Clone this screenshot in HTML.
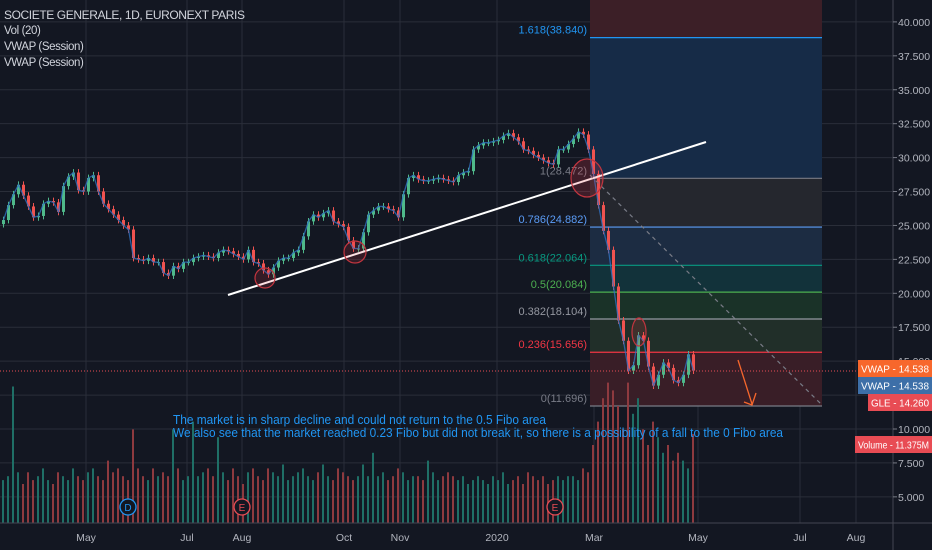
<!DOCTYPE html>
<html><head><meta charset="utf-8"><style>
html,body{margin:0;padding:0;background:#131722;}
#wrap{position:relative;width:932px;height:550px;overflow:hidden;background:#131722;font-family:"Liberation Sans",sans-serif;}
svg{position:absolute;left:0;top:0;}
.leg{position:absolute;left:4px;color:#d1d4dc;font-size:11.5px;letter-spacing:-0.4px;}
</style></head><body>
<div id="wrap">
<svg id="c" width="932" height="550"></svg>
<div class="leg" style="top:8px;font-size:12px">SOCIETE GENERALE, 1D, EURONEXT PARIS</div>
<div class="leg" style="top:25px">Vol (20)</div>
<div class="leg" style="top:41px">VWAP (Session)</div>
<div class="leg" style="top:57px">VWAP (Session)</div>
</div>
<script>
const closes=[25.4,26.5,27.3,28.0,27.2,26.4,25.6,25.7,26.6,26.8,26.7,26.0,27.9,28.6,28.9,27.6,27.5,28.5,28.7,27.5,26.6,26.2,25.8,25.4,25.0,24.7,22.6,22.5,22.4,22.6,22.3,22.3,21.5,21.3,22.0,21.8,22.3,22.3,22.6,22.7,22.8,22.7,22.6,23.0,23.2,23.1,22.9,22.7,22.5,23.2,22.3,22.2,21.7,21.4,21.9,22.4,22.6,22.6,23.0,23.2,24.2,25.3,25.8,25.6,25.9,26.1,25.3,25.1,24.9,23.9,23.3,23.3,24.5,25.8,26.1,26.4,26.4,26.2,26.1,25.6,27.3,28.5,28.7,28.4,28.3,28.3,28.4,28.5,28.4,28.3,28.2,28.7,28.9,29.0,30.6,30.9,31.1,31.1,31.2,31.3,31.6,31.8,31.5,31.2,30.6,30.5,30.2,30.0,29.8,29.6,29.5,30.6,30.6,31.0,31.4,31.9,31.7,30.6,28.8,26.5,24.6,23.2,20.5,18.0,16.5,14.3,14.7,16.9,16.5,14.6,13.2,14.0,14.9,14.5,13.6,13.4,14.0,15.5,14.3];
const volumes=[5.5,6,17.5,6.5,5,6.5,5.5,6,7,5.5,5,6.5,6,5.5,7,6,5.5,6.5,7,6,5.5,8,6.5,7,6,5.5,12,7,6,5.5,7,6,6.5,6,12,7,5.5,6,13,6,6.5,7,6,11,6.5,5.5,7,6,5,6.5,7,6,5.5,7,6.5,6,7.5,5.5,6,6.5,7,6,5.5,6.5,7.5,6,5.5,7,6.5,6,5.5,6,7.5,6,9,6,6.5,5.5,6,7,6.5,5.5,6,6,5.5,8,6.5,5.5,6,6.5,6,5.5,6,5,5.5,6,5.5,5,6,5.5,6.5,5,5.5,6,5,6.5,6,5.5,6,5,5.5,6,5.5,6,6,5.5,7,6.5,10,13,16,18,17,15,12,18,14,16,12,10,13,11,9,10,8,9,8,7,11.4];
const priceTicks=[40,37.5,35,32.5,30,27.5,25,22.5,20,17.5,15,12.5,10,7.5,5];
const monthLabels=["May","Jul","Aug","Oct","Nov","2020","Mar","May","Jul","Aug"];
const monthX=[86,187,242,344,400,497,594,698,800,856];
const fibRatios=["1.618","1","0.786","0.618","0.5","0.382","0.236","0"];
const fibPrices=[38.840,28.472,24.882,22.064,20.084,18.104,15.656,11.696];
const fibLineColors=["#2196f3","#787b86","#5b9cf6","#089981","#4caf50","#9598a1","#f23645","#787b86"];
const fibFills=["#162b47","#25272e","#1c2c42","#12323a","#1a3228","#212f29","#391e27"];

const svg=document.getElementById('c');const NS='http://www.w3.org/2000/svg';
function py(p){return 429-(p-10)*13.57;}
function cx(i){return 2+i*5;}
function vy(v){return 523-v*7.8;}
function mk(tag,attrs,name,inter){const e=document.createElementNS(NS,tag);for(const k in attrs)e.setAttribute(k,attrs[k]);


svg.appendChild(e);return e;}
function txt(x,y,s,attrs,name){const e=mk('text',Object.assign({x:x,y:y},attrs),name,false);e.textContent=s;return e;}

priceTicks.forEach(t=>{mk('line',{x1:0,x2:893,y1:py(t),y2:py(t),stroke:'#2a2e39','stroke-width':1},'grid-h-line',false);});
monthX.forEach(x=>{mk('line',{x1:x,x2:x,y1:0,y2:523,stroke:'#2a2e39','stroke-width':1},'grid-v-line',false);});

mk('rect',{x:590,y:0,width:232,height:py(fibPrices[0]),fill:'#3c1f27'},'fib-top-zone',false);
for(let i=0;i<fibFills.length;i++){const y1=py(fibPrices[i]),y2=py(fibPrices[i+1]);
mk('rect',{x:590,y:y1,width:232,height:y2-y1,fill:fibFills[i]},'fib-zone',false);}
fibPrices.forEach((p,i)=>{mk('line',{x1:590,x2:822,y1:py(p),y2:py(p),stroke:fibLineColors[i],'stroke-width':1.2},'fib-level-line',true);
txt(587,py(p)-4,fibRatios[i]+'('+p.toFixed(3)+')',{fill:fibLineColors[i],'font-size':'11px','text-anchor':'end'},'fib-level-label');});

volumes.forEach((v,i)=>{const up=i===0||closes[i]>=closes[i-1];
mk('rect',{x:cx(i),y:vy(v),width:2,height:523-vy(v),fill:up?'#1f6f66':'#8e3a3f'},'volume-bar',false);});

closes.forEach((c,i)=>{const o=i===0?c-0.3:closes[i-1];const up=c>=o;const col=up?'#4fb98a':'#ef5350';
const hi=Math.max(o,c)+0.25,lo=Math.min(o,c)-0.25;
mk('line',{x1:cx(i)+1.5,x2:cx(i)+1.5,y1:py(hi),y2:py(lo),stroke:col,'stroke-width':1},'candle-wick',false);
mk('rect',{x:cx(i),y:py(Math.max(o,c)),width:3,height:Math.max(1,Math.abs(py(o)-py(c))),fill:col},'candle-body',false);});
mk('polyline',{points:closes.map((c,i)=>(cx(i)+1.5)+','+py(c)).join(' '),fill:'none',stroke:'#2f6fbf','stroke-width':1.3,opacity:0.8},'vwap-line',false);

mk('line',{x1:228,y1:295,x2:706,y2:142,stroke:'#ffffff','stroke-width':2},'trend-line',true);
mk('line',{x1:590,y1:175,x2:822,y2:405,stroke:'#787b86','stroke-width':1.2,'stroke-dasharray':'4 4'},'fib-dashed-line',false);
mk('circle',{cx:265,cy:278,r:10,fill:'rgba(242,54,69,0.15)',stroke:'#c2353f','stroke-width':1.2},'highlight-circle',true);
mk('circle',{cx:355,cy:252,r:11,fill:'rgba(242,54,69,0.15)',stroke:'#c2353f','stroke-width':1.2},'highlight-circle',true);
mk('ellipse',{cx:587,cy:178,rx:16,ry:19,fill:'rgba(242,54,69,0.2)',stroke:'#c2353f','stroke-width':1.2},'highlight-circle',true);
mk('ellipse',{cx:639,cy:332,rx:7,ry:14,fill:'rgba(242,54,69,0.15)',stroke:'#c2353f','stroke-width':1.2},'highlight-circle',true);
mk('line',{x1:738,y1:360,x2:752,y2:404,stroke:'#f7672c','stroke-width':1.3},'arrow-shaft',true);
mk('polyline',{points:'744,402 752,405 756,393',fill:'none',stroke:'#f7672c','stroke-width':1.3},'arrow-head',false);
mk('line',{x1:0,x2:893,y1:371,y2:371,stroke:'#e84c54','stroke-width':1,'stroke-dasharray':'1 2'},'price-line',false);

txt(173,424,'The market is in sharp decline and could not return to the 0.5 Fibo area',{fill:'#2196f3','font-size':'13px',textLength:373,lengthAdjust:'spacingAndGlyphs'},'annotation-line-1');
txt(173,437,'We also see that the market reached 0.23 Fibo but did not break it, so there is a possibility of a fall to the 0 Fibo area',{fill:'#2196f3','font-size':'13px',textLength:610,lengthAdjust:'spacingAndGlyphs'},'annotation-line-2');

[[128,'D','#2196f3'],[242,'E','#e84c54'],[555,'E','#e84c54']].forEach(e=>{
mk('circle',{cx:e[0],cy:507,r:8,fill:'#131722',stroke:e[2],'stroke-width':1.3},'event-marker',true);
txt(e[0],511,e[1],{fill:e[2],'font-size':'10px','text-anchor':'middle'},'event-label');});

mk('line',{x1:0,x2:932,y1:523,y2:523,stroke:'#434651','stroke-width':1},'time-axis-line',false);
mk('line',{x1:893,x2:893,y1:0,y2:550,stroke:'#434651','stroke-width':1},'price-axis-line',false);
priceTicks.forEach(t=>{mk('line',{x1:893,x2:897,y1:py(t),y2:py(t),stroke:'#787b86'},'price-tick',false);
txt(898,py(t)+4,t.toFixed(3),{fill:'#b2b5be','font-size':'10.5px'},'price-tick-label');});
monthLabels.forEach((m,i)=>{txt(monthX[i],541,m,{fill:'#b2b5be','font-size':'10.5px','text-anchor':'middle'},'time-tick-label');});

function badge(x,y,w,bg,label,name){mk('rect',{x:x,y:y,width:w,height:17,fill:bg},name,false);
txt(x+3,y+12.5,label,{fill:'#ffffff','font-size':'10.5px',textLength:w-6,lengthAdjust:'spacingAndGlyphs'},name+'-text');}
badge(858,360,74,'#f7672c','VWAP - 14.538','vwap-orange-badge');
badge(858,377,74,'#3d6fa8','VWAP - 14.538','vwap-blue-badge');
badge(868,394,64,'#e84c54','GLE - 14.260','last-price-badge');
badge(855,436,77,'#e84c54','Volume - 11.375M','volume-badge');
</script>
</body></html>
